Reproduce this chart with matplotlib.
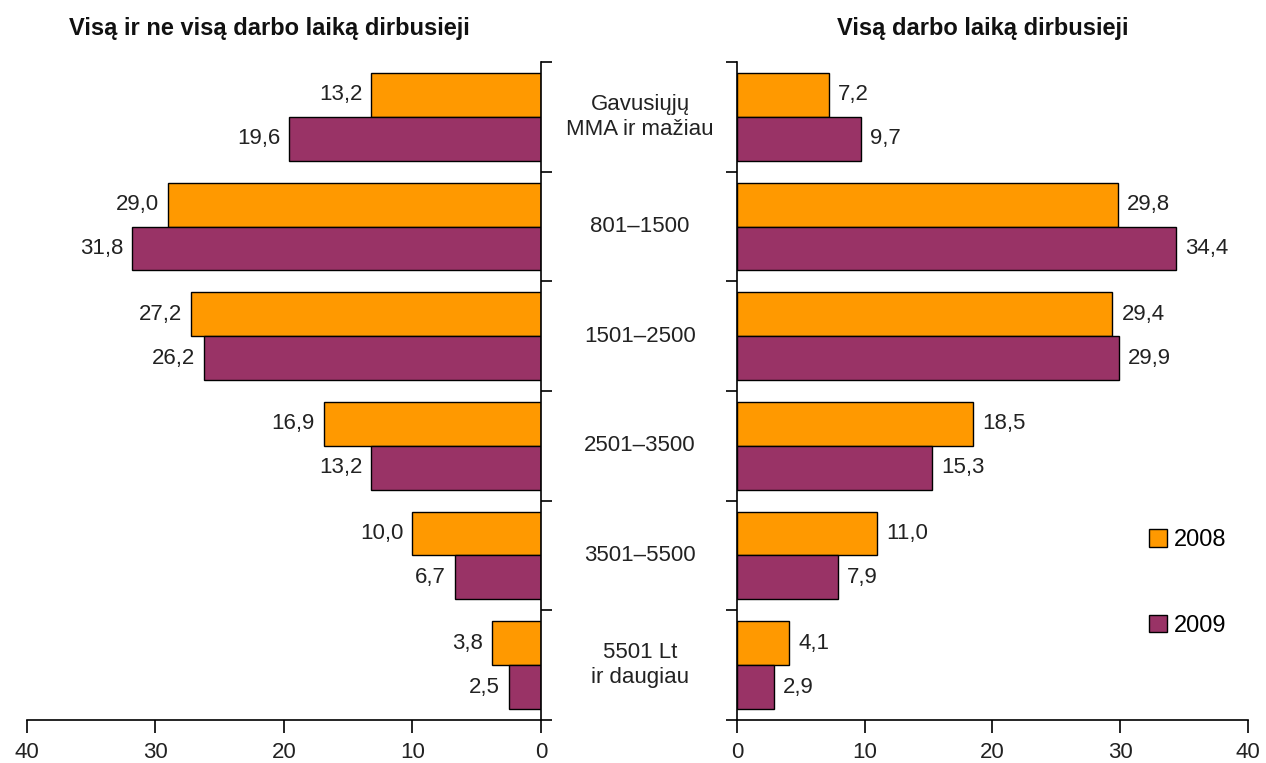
import matplotlib.pyplot as plt
from matplotlib.transforms import blended_transform_factory

plt.rcParams['font.family'] = ['Liberation Sans', 'DejaVu Sans']

categories = ['Gavusiųjų\nMMA ir mažiau', '801–1500', '1501–2500',
              '2501–3500', '3501–5500', '5501 Lt\nir daugiau']
years = ['2008', '2009']
all_2008 = [13.2, 29.0, 27.2, 16.9, 10.0, 3.8]
all_2009 = [19.6, 31.8, 26.2, 13.2, 6.7, 2.5]
full_2008 = [7.2, 29.8, 29.4, 18.5, 11.0, 4.1]
full_2009 = [9.7, 34.4, 29.9, 15.3, 7.9, 2.9]
xticks = [0, 10, 20, 30, 40]

orange = '#FF9900'
purple = '#993366'
fs = 16


def fmt(v):
    return f'{v:.1f}'.replace('.', ',')


def draw(ax, v08, v09, side):
    pos = list(range(len(categories)))
    bh = 0.4
    sign = -1 if side == 'left' else 1
    ha = 'right' if side == 'left' else 'left'
    for off, vals, col, lab in ((-bh / 2, v08, orange, years[0]),
                                (bh / 2, v09, purple, years[1])):
        ys = [p + off for p in pos]
        ax.barh(ys, vals, height=bh, color=col, edgecolor='black',
                linewidth=1, label=lab)
        for y, v in zip(ys, vals):
            ax.annotate(fmt(v), (v, y), xytext=(sign * 6.5, 0),
                        textcoords='offset points', ha=ha, va='center',
                        fontsize=fs, color='#222222')
    ax.set_xlim(0, 40)
    ax.set_ylim(len(categories) - 0.5, -0.5)
    ax.set_xticks(xticks)
    ax.set_yticks([i - 0.5 for i in range(len(categories) + 1)])
    ax.set_yticklabels([])
    ax.tick_params(axis='x', direction='out', length=9, width=1.2,
                   labelsize=fs, pad=7, colors='black', labelcolor='#222222')
    ax.tick_params(axis='y', direction='out', length=8, width=1.2)
    ax.spines['top'].set_visible(False)
    for s in ax.spines.values():
        s.set_linewidth(1.2)
    if side == 'left':
        ax.invert_xaxis()
        ax.yaxis.tick_right()
        ax.spines['left'].set_visible(False)
    else:
        ax.spines['right'].set_visible(False)


fig = plt.figure(figsize=(12.66, 7.63), dpi=100)
ax1 = fig.add_axes([0.0213, 0.0564, 0.406, 0.8623])
ax2 = fig.add_axes([0.5821, 0.0564, 0.4036, 0.8623])

draw(ax1, all_2008, all_2009, 'left')
draw(ax2, full_2008, full_2009, 'right')

fig.text(0.2125, 0.963, 'Visą ir ne visą darbo laiką dirbusieji',
         ha='center', va='center', fontsize=17, fontweight='bold',
         color='#111111')
fig.text(0.7765, 0.963, 'Visą darbo laiką dirbusieji',
         ha='center', va='center', fontsize=17, fontweight='bold',
         color='#111111')

tr = blended_transform_factory(fig.transFigure, ax1.transData)
for i, c in enumerate(categories):
    ax1.text(0.5055, i, c, transform=tr, ha='center', va='center',
             fontsize=fs, color='#222222', linespacing=1.25)

ax2.legend(loc='upper left', bbox_to_anchor=(0.807, 0.29), frameon=False,
           fontsize=17, handlelength=0.75, handleheight=0.75,
           handletextpad=0.3, labelspacing=2.7, borderpad=0,
           borderaxespad=0)

fig.savefig('out.png', dpi=100)
